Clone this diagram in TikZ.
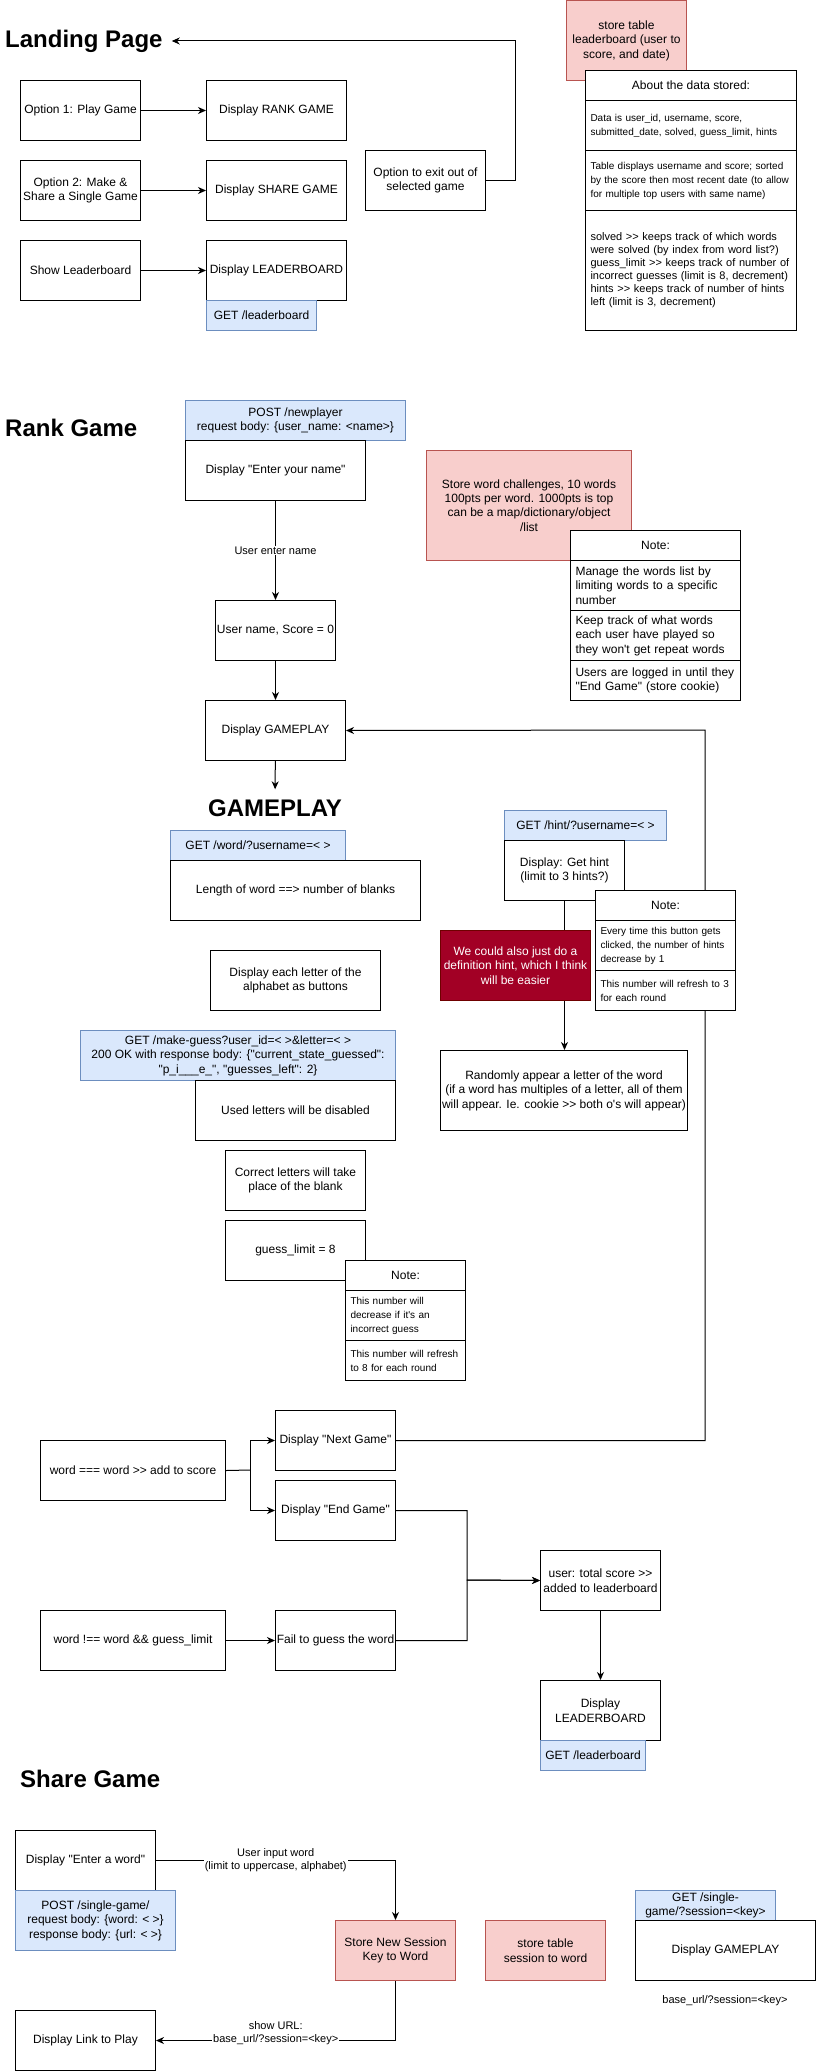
\documentclass[tikz,border=0pt]{standalone}
\usepackage{fontspec}
\setmainfont{Liberation Sans}[Ligatures=TeXOff]
\usepackage{tikz}
\usetikzlibrary{arrows.meta}
\definecolor{apifill}{RGB}{218, 232, 252}
\definecolor{apiline}{RGB}{108, 142, 191}
\definecolor{storefill}{RGB}{248, 206, 204}
\definecolor{storeline}{RGB}{184, 84, 80}
\definecolor{alertfill}{RGB}{162, 0, 37}
\definecolor{alertline}{RGB}{111, 0, 0}
\tikzset{
  base/.style={font=\fontsize{12}{14.4}\selectfont, align=center, anchor=north west,
               inner sep=1pt, line width=1pt},
  sz/.style 2 args={minimum width=#1, minimum height=#2},
  plain/.style={base, draw=black, fill=white},
  api/.style={base, draw=apiline, fill=apifill},
  store/.style={base, draw=storeline, fill=storefill},
  alert/.style={base, draw=alertline, fill=alertfill, text=white},
  cell/.style={base, draw=black, fill=white, align=left, inner xsep=5pt},
  title/.style={font=\fontsize{24}{28}\selectfont\bfseries, anchor=west, inner sep=0pt},
  lab/.style={font=\fontsize{11}{13.2}\selectfont, fill=white, inner sep=1pt, align=center},
  line/.style={line width=1pt},
  flow/.style={line width=1pt, -{Stealth[length=8pt, width=7pt, inset=2.5pt]}}
}
\begin{document}
\begin{tikzpicture}[x=1pt, y=-1pt]

  \useasboundingbox (0,0) rectangle (816,2071);

  % landing page
  \node[title] (landing) at (5,41) {Landing Page};
  \foreach \y/\opt/\disp [count=\n] in {80/{Option 1: Play Game}/{Display RANK GAME},
                                         160/{Option 2: Make \&\\Share a Single Game}/{Display SHARE GAME},
                                         240/{Show Leaderboard}/{Display LEADERBOARD}} {
    \node[plain, sz={120}{60}] (opt\n) at (20,\y) {\opt};
    \node[plain, sz={140}{60}] (disp\n) at (206,\y) {\disp};
    \draw[flow] (opt\n) -- (disp\n);
  }
  \node[api, sz={110}{30}] (getlb) at (206,300) {GET /leaderboard};
  \node[plain, sz={120}{60}] (exit) at (365,150) {Option to exit out of\\selected game};
  \node[store, sz={120}{80}] (lbtable) at (566,0) {store table\\leaderboard (user to\\score, and date)};

  \coordinate (exitturn) at (515,41);
  \draw[flow] (exit.east) -| (exitturn) -- ([xshift=9pt]landing.east);

  % rank game
  \node[title] (rank) at (5,428) {Rank Game};
  \node[api, sz={220}{40}] (newplayer) at (185,400) {POST /newplayer\\request body: \{user\_name: <name>\}};
  \node[plain, sz={180}{60}] (entername) at (185,440) {Display "Enter your name"};
  \node[plain, sz={120}{60}] (username) at (215,600) {User name, Score = 0};
  \node[plain, sz={140}{60}] (gameplay) at (205,700) {Display GAMEPLAY};
  \node[store, sz={205}{110}] (wordstore) at (426,450) {Store word challenges, 10 words\\100pts per word. 1000pts is top\\can be a map/dictionary/object\\/list};

  \node[title, anchor=center, inner ysep=10pt] (gptitle) at (275,808) {GAMEPLAY};
  \node[api, sz={175}{30}] (getword) at (170,830) {GET /word/?username=< >};
  \node[plain, sz={250}{60}] (blanks) at (170,860) {Length of word ==> number of blanks};
  \node[plain, sz={170}{60}] (letters) at (210,950) {Display each letter of the\\alphabet as buttons};
  \node[api, sz={315}{50}] (makeguess) at (80,1030) {GET /make-guess?user\_id=< >\&letter=< >\\200 OK with response body: \{"current\_state\_guessed":\\"p\_i\_\_\_e\_", "guesses\_left": 2\}};
  \node[plain, sz={200}{60}] (used) at (195,1080) {Used letters will be disabled};
  \node[plain, sz={140}{60}] (correct) at (225,1150) {Correct letters will take\\place of the blank};
  \node[plain, sz={140}{60}] (guesslimit) at (225,1220) {guess\_limit = 8};

  \node[api, sz={162}{30}] (gethintapi) at (504,810) {GET /hint/?username=< >};
  \node[plain, sz={120}{60}] (gethint) at (504,840) {Display: Get hint\\(limit to 3 hints?)};
  \node[plain, sz={247}{80}] (random) at (440,1050) {Randomly appear a letter of the word\\(if a word has multiples of a letter, all of them\\will appear. Ie. cookie >> both o's will appear)};

  \node[plain, sz={185}{60}] (wordeq) at (40,1440) {word === word >> add to score};
  \node[plain, sz={120}{60}] (next) at (275,1410) {Display "Next Game"};
  \node[plain, sz={120}{60}] (end) at (275,1480) {Display "End Game"};
  \node[plain, sz={185}{60}] (wordne) at (40,1610) {word !== word \&\& guess\_limit};
  \node[plain, sz={120}{60}] (fail) at (275,1610) {Fail to guess the word};
  \node[plain, sz={120}{60}] (total) at (540,1550) {user: total score >>\\added to leaderboard};
  \node[plain, sz={120}{60}] (showlb) at (540,1680) {Display\\LEADERBOARD};
  \node[api, sz={105}{30}] (getlb2) at (540,1740) {GET /leaderboard};

  \draw[flow] (entername) -- node[lab] {User enter name} (username);
  \draw[flow] (username) -- (gameplay);
  \draw[flow] (gameplay) -- (gptitle);
  \draw[flow] (gethint.south) -- (gethint.south |- random.north);

  \coordinate (loopturn) at (705,730);
  \draw[flow] (next.east) -| (loopturn) -- (gameplay.east);
  \coordinate (split) at (250,1470);
  \draw[line] (wordeq.east) -- (split);
  \draw[flow] (split) |- (next.west);
  \draw[flow] (split) |- (end.west);
  \draw[flow] (wordne) -- (fail);
  \coordinate (merge) at (467,1580);
  \draw[flow] (end.east) -| (merge) -- (total.west);
  \draw[flow] (fail.east) -| (merge) -- (total.west);
  \draw[flow] (total) -- (showlb);

  % share game
  \node[title] (share) at (20,1779) {Share Game};
  \node[plain, sz={140}{60}] (enterword) at (15,1830) {Display "Enter a word"};
  \node[api, sz={160}{60}] (singlepost) at (15,1890) {POST /single-game/\\request body: \{word: < >\}\\response body: \{url: < >\}};
  \node[store, sz={120}{60}] (session) at (335,1920) {Store New Session\\Key to Word};
  \node[store, sz={120}{60}] (sessiontable) at (485,1920) {store table\\session to word};
  \node[api, sz={140}{30}] (singleget) at (635,1890) {GET /single-\\game/?session=<key>};
  \node[plain, sz={180}{60}] (sharegame) at (635,1920) {Display GAMEPLAY};
  \node[font=\fontsize{11}{13.2}\selectfont] (baseurl) at (725,2001) {base\_url/?session=<key>};
  \node[plain, sz={140}{60}] (link) at (15,2010) {Display Link to Play};

  \draw[flow] (enterword.east) -| node[lab, pos=0.25] {User input word\\(limit to uppercase, alphabet)} (session.north);
  \draw[flow] (session.south) |- node[lab, pos=0.75, yshift=7pt] {show URL:\\base\_url/?session=<key>} (link.east);

  % notes on top
  \node[plain, sz={211}{30}] (about) at (585,70) {About the data stored:};
  \node[cell, sz={211}{50}, text width=201pt, font=\fontsize{10}{14}\selectfont] (about1) at (585,100)
    {Data is user\_id, username, score,\\submitted\_date, solved, guess\_limit, hints};
  \node[cell, sz={211}{60}, text width=201pt, font=\fontsize{10}{14}\selectfont] (about2) at (585,150)
    {Table displays username and score; sorted\\by the score then most recent date (to allow\\for multiple top users with same name)};
  \node[cell, sz={211}{120}, text width=201pt, font=\fontsize{11}{13}\selectfont] (about3) at (585,210)
    {solved >> keeps track of which words\\were solved (by index from word list?)\\guess\_limit >> keeps track of number of\\incorrect guesses (limit is 8, decrement)\\hints >> keeps track of number of hints\\left (limit is 3, decrement)};

  \node[plain, sz={170}{30}] (wordnote) at (570,530) {Note:};
  \node[cell, sz={170}{50}, text width=160pt] (wordnote1) at (570,560)
    {Manage the words list by\\limiting words to a specific\\number};
  \node[cell, sz={170}{50}, text width=160pt] (wordnote2) at (570,610)
    {Keep track of what words\\each user have played so\\they won't get repeat words};
  \node[cell, sz={170}{40}, text width=160pt] (wordnote3) at (570,660)
    {Users are logged in until they\\"End Game" (store cookie)};

  \node[plain, sz={140}{30}] (hintnote) at (595,890) {Note:};
  \node[cell, sz={140}{50}, text width=130pt, font=\fontsize{10}{14}\selectfont] (hintnote1) at (595,920)
    {Every time this button gets\\clicked, the number of hints\\decrease by 1};
  \node[cell, sz={140}{40}, text width=130pt, font=\fontsize{10}{14}\selectfont] (hintnote2) at (595,970)
    {This number will refresh to 3\\for each round};

  \node[alert, sz={150}{70}] (defhint) at (440,930) {We could also just do a\\definition hint, which I think\\will be easier};

  \node[plain, sz={120}{30}] (guessnote) at (345,1260) {Note:};
  \node[cell, sz={120}{50}, text width=110pt, font=\fontsize{10}{14}\selectfont] (guessnote1) at (345,1290)
    {This number will\\decrease if it's an\\incorrect guess};
  \node[cell, sz={120}{40}, text width=110pt, font=\fontsize{10}{14}\selectfont] (guessnote2) at (345,1340)
    {This number will refresh\\to 8 for each round};

\end{tikzpicture}
\end{document}
